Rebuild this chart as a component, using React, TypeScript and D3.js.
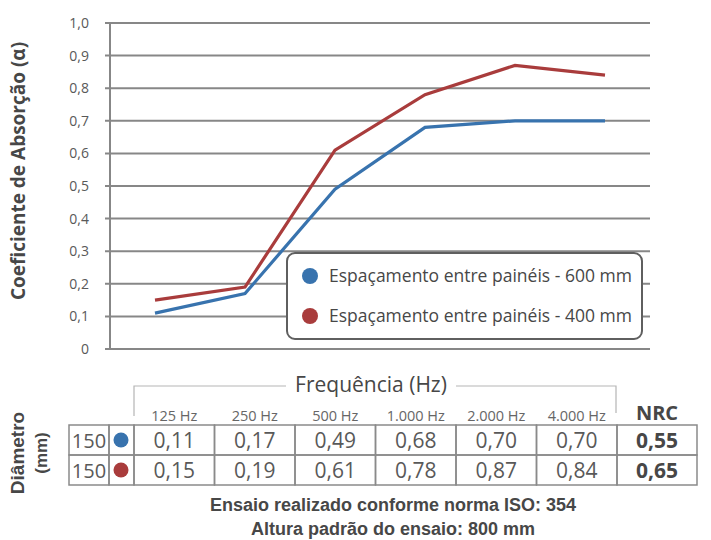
import * as d3 from 'd3';

const frequencies = ['125 Hz', '250 Hz', '500 Hz', '1.000 Hz', '2.000 Hz', '4.000 Hz'];
const spacing600 = [0.11, 0.17, 0.49, 0.68, 0.7, 0.7];
const spacing400 = [0.15, 0.19, 0.61, 0.78, 0.87, 0.84];
const seriesNames = ['Espaçamento entre painéis - 600 mm', 'Espaçamento entre painéis - 400 mm'];
const nrcValues = [0.55, 0.65];
const diameters = ['150', '150'];
const yTicks = [0, 0.1, 0.2, 0.3, 0.4, 0.5, 0.6, 0.7, 0.8, 0.9, 1.0];

const BLUE = '#3873ae';
const RED = '#a93c3c';
const GRID = '#878787';
const TEXT = '#595959';
const DARK = '#474747';

const fmt = (v: number, digits: number) => v.toFixed(digits).replace('.', ',');

export default function App() {
  const width = 711;
  const height = 540;

  const x = d3.scaleBand<string>().domain(frequencies).range([110, 650]);
  const y = d3.scaleLinear().domain([0, 1]).range([349, 23]);
  const line = d3
    .line<number>()
    .x((_, i) => (x(frequencies[i]) ?? 0) + x.bandwidth() / 2)
    .y((d) => y(d));

  const series = [
    { name: seriesNames[0], values: spacing600, color: BLUE },
    { name: seriesNames[1], values: spacing400, color: RED },
  ];

  // table geometry
  const colX = d3.scaleBand<string>().domain(frequencies).range([134, 617]);
  const rowY = d3.scaleBand<number>().domain([0, 1]).range([425, 485]);
  const cellStroke = '#8a8a8a';

  return (
    <svg
      width={width}
      height={height}
      style={{ position: 'absolute', left: 0, top: 0, background: '#fff' }}
      fontFamily="'Open Sans', sans-serif"
    >
      {/* grid */}
      {yTicks.map((t) => (
        <g key={t}>
          <line x1={105} x2={650} y1={y(t)} y2={y(t)} stroke={GRID} strokeWidth={2} />
          <text x={89} y={y(t) + 5} textAnchor="end" fontSize={14} fill={TEXT}>
            {t === 0 ? '0' : fmt(t, 1)}
          </text>
        </g>
      ))}
      <line x1={110} x2={110} y1={y(1)} y2={y(0)} stroke={GRID} strokeWidth={2} />

      <text
        transform="translate(25,171) rotate(-90)"
        textAnchor="middle"
        fontWeight="bold"
        fontSize={19}
        fill={DARK}
      >
        Coeficiente de Absorção (α)
      </text>

      {series.map((s) => (
        <path key={s.name} d={line(s.values) ?? ''} fill="none" stroke={s.color} strokeWidth={3.2} />
      ))}

      {/* legend */}
      <rect x={287} y={253} width={355} height={86} rx={8} fill="#fff" stroke="#5f5f5f" strokeWidth={2} />
      {series.map((s, i) => (
        <g key={s.name} transform={`translate(0,${276 + i * 40})`}>
          <circle cx={310} cy={0} r={8} fill={s.color} />
          <text x={329} y={6} fontSize={17.5} fill={DARK}>
            {s.name}
          </text>
        </g>
      ))}

      {/* frequency bracket */}
      <path d="M134,416 V386 H286" fill="none" stroke="#b5b5b5" strokeWidth={1.2} />
      <path d="M456,386 H616 V413" fill="none" stroke="#b5b5b5" strokeWidth={1.2} />
      <text x={371} y={392} textAnchor="middle" fontSize={21} fill={DARK}>
        Frequência (Hz)
      </text>

      {frequencies.map((f) => (
        <text
          key={f}
          x={(colX(f) ?? 0) + colX.bandwidth() / 2}
          y={421}
          textAnchor="middle"
          fontSize={14.5}
          fill="#666"
        >
          {f}
        </text>
      ))}
      <text x={657} y={420} textAnchor="middle" fontSize={20} fontWeight="bold" fill={DARK}>
        NRC
      </text>

      {/* table */}
      {series.map((s, r) => {
        const top = rowY(r) ?? 0;
        const h = rowY.bandwidth();
        return (
          <g key={s.name}>
            <rect x={69} y={top} width={40} height={h} fill="none" stroke={cellStroke} strokeWidth={1.5} />
            <text x={89} y={top + 23} textAnchor="middle" fontSize={20} fill={TEXT}>
              {diameters[r]}
            </text>
            <rect x={109} y={top} width={25} height={h} fill="none" stroke={cellStroke} strokeWidth={1.5} />
            <circle cx={121} cy={top + h / 2} r={7.5} fill={s.color} />
            {s.values.map((v, i) => (
              <g key={i}>
                <rect
                  x={colX(frequencies[i]) ?? 0}
                  y={top}
                  width={colX.bandwidth()}
                  height={h}
                  fill="none"
                  stroke={cellStroke}
                  strokeWidth={1.5}
                />
                <text
                  x={(colX(frequencies[i]) ?? 0) + colX.bandwidth() / 2}
                  y={top + 23}
                  textAnchor="middle"
                  fontSize={21}
                  fill={TEXT}
                >
                  {fmt(v, 2)}
                </text>
              </g>
            ))}
            <rect x={617} y={top} width={80} height={h} fill="none" stroke={cellStroke} strokeWidth={1.5} />
            <text x={657} y={top + 23} textAnchor="middle" fontSize={21} fontWeight="bold" fill={DARK}>
              {fmt(nrcValues[r], 2)}
            </text>
          </g>
        );
      })}

      <g fontFamily="'Liberation Sans', Arial, sans-serif" fontWeight="bold" fill={DARK}>
        <text transform="translate(24,453) rotate(-90)" textAnchor="middle" fontSize={19}>
          Diâmetro
        </text>
        <text transform="translate(47,453) rotate(-90)" textAnchor="middle" fontSize={17}>
          (mm)
        </text>
        <text x={393} y={511} textAnchor="middle" fontSize={18}>
          Ensaio realizado conforme norma ISO: 354
        </text>
        <text x={393} y={535} textAnchor="middle" fontSize={18}>
          Altura padrão do ensaio: 800 mm
        </text>
      </g>
    </svg>
  );
}
